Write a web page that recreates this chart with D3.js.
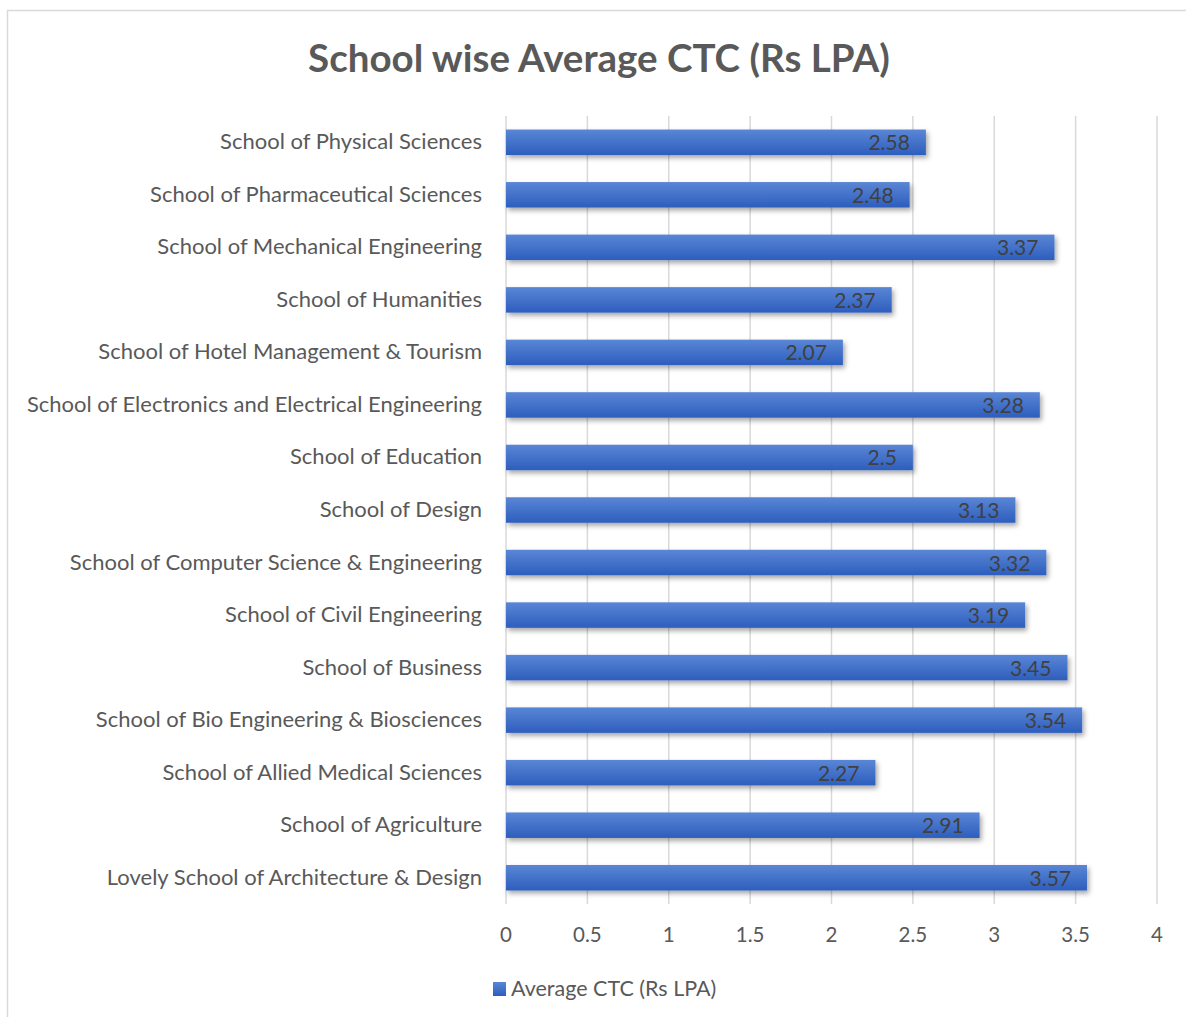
<!DOCTYPE html>
<html>
<head>
<meta charset="utf-8">
<script src="https://cdn.jsdelivr.net/npm/d3@7"></script>
<style>
  body { margin: 0; background: #fff; }
  svg text { font-family: Lato, "Open Sans", sans-serif; }
</style>
</head>
<body>
<svg id="chart" width="1186" height="1017"></svg>
<script>
// data (bottom to top as in the picture's category order)
const schools = [
  "Lovely School of Architecture & Design",
  "School of Agriculture",
  "School of Allied Medical Sciences",
  "School of Bio Engineering & Biosciences",
  "School of Business",
  "School of Civil Engineering",
  "School of Computer Science & Engineering",
  "School of Design",
  "School of Education",
  "School of Electronics and Electrical Engineering",
  "School of Hotel Management & Tourism",
  "School of Humanities",
  "School of Mechanical Engineering",
  "School of Pharmaceutical Sciences",
  "School of Physical Sciences"
];
const avgCtc = [3.57, 2.91, 2.27, 3.54, 3.45, 3.19, 3.32, 3.13, 2.5, 3.28, 2.07, 2.37, 3.37, 2.48, 2.58];
const xTicks = [0, 0.5, 1, 1.5, 2, 2.5, 3, 3.5, 4];
const seriesName = "Average CTC (Rs LPA)";

const svg = d3.select("#chart");

// chart border
svg.append("rect").attr("x", 7.5).attr("y", 10.5).attr("width", 1190).attr("height", 1020)
  .attr("fill", "none").attr("stroke", "#d9d9d9").attr("stroke-width", 1.5);

const defs = svg.append("defs");
const grad = defs.append("linearGradient").attr("id", "barGrad").attr("x1", 0).attr("y1", 0).attr("x2", 0).attr("y2", 1);
grad.append("stop").attr("offset", "0%").attr("stop-color", "#5a86d6");
grad.append("stop").attr("offset", "100%").attr("stop-color", "#2d5ebd");
const shadow = defs.append("filter").attr("id", "shadow").attr("x", "-5%").attr("y", "-30%").attr("width", "115%").attr("height", "190%");
shadow.append("feDropShadow").attr("dx", 2).attr("dy", 3).attr("stdDeviation", 2.5)
  .attr("flood-color", "#000").attr("flood-opacity", 0.35);

const x = d3.scaleLinear().domain([0, 4]).range([506, 1157]);
const y = d3.scaleBand().domain(schools.slice().reverse()).range([116, 904]).paddingInner(0.515).paddingOuter(0.2575);

// title
svg.append("text").attr("x", 599).attr("y", 72).attr("text-anchor", "middle")
  .attr("font-size", 38.5).attr("font-weight", "bold").attr("fill", "#595959")
  .text("School wise Average CTC (Rs LPA)");

// gridlines
svg.append("g").selectAll("line").data(xTicks).join("line")
  .attr("x1", d => x(d)).attr("x2", d => x(d))
  .attr("y1", 116).attr("y2", 904)
  .attr("stroke", "#d9d9d9").attr("stroke-width", 1.5);

// x tick labels
svg.append("g").selectAll("text").data(xTicks).join("text")
  .attr("x", d => x(d)).attr("y", 942).attr("text-anchor", "middle")
  .attr("font-size", 20.5).attr("fill", "#595959")
  .text(d => d);

// category labels
svg.append("g").selectAll("text").data(schools).join("text")
  .attr("x", 482).attr("y", d => y(d) + y.bandwidth() / 2 + 7)
  .attr("text-anchor", "end").attr("font-size", 22).attr("fill", "#595959")
  .text(d => d);

const rows = schools.map((s, i) => ({ school: s, value: avgCtc[i] }));

// bars
svg.append("g").selectAll("rect").data(rows).join("rect")
  .attr("x", x(0)).attr("y", d => y(d.school))
  .attr("width", d => x(d.value) - x(0)).attr("height", y.bandwidth())
  .attr("fill", "url(#barGrad)").attr("filter", "url(#shadow)");

// data labels
svg.append("g").selectAll("text").data(rows).join("text")
  .attr("x", d => x(d.value) - 16).attr("y", d => y(d.school) + y.bandwidth() / 2 + 8)
  .attr("text-anchor", "end").attr("font-size", 21).attr("fill", "#404040")
  .text(d => d.value);

// legend
svg.append("rect").attr("x", 493).attr("y", 982).attr("width", 13).attr("height", 14).attr("fill", "url(#barGrad)");
svg.append("text").attr("x", 511).attr("y", 996).attr("font-size", 21.5).attr("fill", "#595959").text(seriesName);
</script>
</body>
</html>
